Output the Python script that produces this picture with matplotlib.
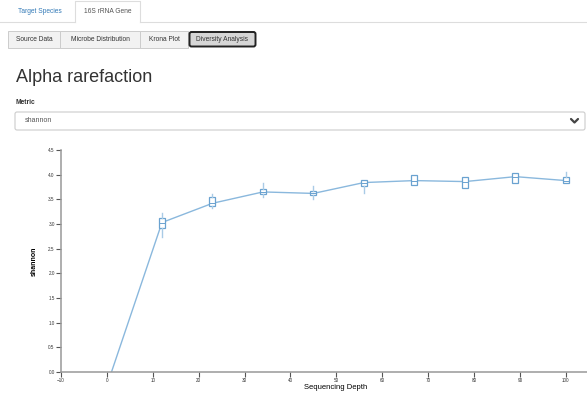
import matplotlib
matplotlib.use("Agg")
import matplotlib.pyplot as plt
from matplotlib.patches import FancyBboxPatch, Rectangle

plt.rcParams['font.family'] = ['Liberation Sans', 'DejaVu Sans']

# rarefaction data: sequencing depth vs shannon diversity
depths = [1, 12, 23, 34, 45, 56, 67, 78, 89, 100]
medians = [0.0, 3.03, 3.42, 3.65, 3.62, 3.84, 3.88, 3.86, 3.96, 3.88]
q1 = [0.0, 2.92, 3.37, 3.61, 3.59, 3.78, 3.79, 3.72, 3.84, 3.84]
q3 = [0.0, 3.12, 3.55, 3.71, 3.66, 3.89, 4.00, 3.96, 4.04, 3.95]
whis_lo = [0.0, 2.74, 3.33, 3.55, 3.51, 3.63, 3.79, 3.72, 3.84, 3.84]
whis_hi = [0.0, 3.22, 3.60, 3.83, 3.77, 3.89, 4.00, 3.96, 4.04, 4.05]

nav_tabs = ["Target Species", "16S rRNA Gene"]
sub_buttons = ["Source Data", "Microbe Distribution", "Krona Plot", "Diversity Analysis"]
x_ticks = list(range(-10, 101, 10))
y_ticks = [0.0, 0.5, 1.0, 1.5, 2.0, 2.5, 3.0, 3.5, 4.0, 4.5]

W, H = 587, 396
fig = plt.figure(figsize=(W / 100, H / 100), dpi=100)

# page layer in pixel coordinates (origin top-left)
ui = fig.add_axes([0, 0, 1, 1])
ui.set_xlim(0, W)
ui.set_ylim(H, 0)
ui.axis("off")

# tabs
ui.plot([0, 75], [22, 22], color="#dddddd", lw=0.8)
ui.plot([140, W], [22, 22], color="#dddddd", lw=0.8)
ui.plot([75, 75, 140, 140], [22, 1, 1, 22], color="#dddddd", lw=0.8)
ui.text(39.5, 11.5, nav_tabs[0], fontsize=4.8, color="#337ab7", ha="center", va="center")
ui.text(107.5, 11.5, nav_tabs[1], fontsize=4.8, color="#555555", ha="center", va="center")

# button group
edges = [8, 60, 140, 188, 257]
for i, name in enumerate(sub_buttons):
    x0, x1 = edges[i], edges[i + 1]
    active = i == len(sub_buttons) - 1
    if active:
        ui.add_patch(FancyBboxPatch((x0 + 1.5, 32), x1 - x0 - 3, 14.5,
                                    boxstyle="round,pad=0,rounding_size=2",
                                    fc="#d6d6d6", ec="#222222", lw=1.4))
    else:
        ui.add_patch(Rectangle((x0, 31), x1 - x0, 16.5, fc="#f2f2f2", ec="#cccccc", lw=0.7))
    ui.text((x0 + x1) / 2, 39.5, name, fontsize=4.8, color="#333333", ha="center", va="center")

ui.text(16, 78, "Alpha rarefaction", fontsize=13, color="#333333", va="center")
ui.text(16, 103, "Metric", fontsize=4.8, fontweight="bold", color="#333333", va="center")

# select box
ui.add_patch(FancyBboxPatch((15, 112), 570, 18, boxstyle="round,pad=0,rounding_size=2",
                            fc="white", ec="#cccccc", lw=0.8))
ui.text(25, 121, "shannon", fontsize=5, color="#555555", va="center")
ui.plot([571, 574.5, 578], [119, 122.5, 119], color="#444444", lw=1.6, solid_capstyle="round")

# rarefaction chart
left, right, top, bottom = 61, 587, 150, 372
ax = fig.add_axes([left / W, 1 - bottom / H, (right - left) / W, (bottom - top) / H])
ax.set_xlim(-10, 104.6)
ax.set_ylim(0, 4.5)

line_color = "#8ab8dd"
box_color = "#6aa2d0"
ax.plot(depths, medians, color=line_color, lw=1.0, zorder=2)

stats = []
for d, m, lo, hi, wl, wh in zip(depths, medians, q1, q3, whis_lo, whis_hi):
    if d == depths[0]:
        continue
    stats.append(dict(med=m, q1=lo, q3=hi, whislo=wl, whishi=wh, fliers=[]))
ax.bxp(stats, positions=depths[1:], widths=1.3, showcaps=False, patch_artist=True,
       boxprops=dict(facecolor="white", edgecolor=box_color, lw=0.9),
       medianprops=dict(color=box_color, lw=0.7),
       whiskerprops=dict(color="#a9cbe6", lw=1.0),
       manage_ticks=False, zorder=3)

for side in ["top", "right"]:
    ax.spines[side].set_visible(False)
for side in ["left", "bottom"]:
    ax.spines[side].set_color("#999999")
    ax.spines[side].set_linewidth(1.1)
ax.set_xticks(x_ticks)
ax.set_yticks(y_ticks)
ax.set_yticklabels([f"{v:.1f}" for v in y_ticks])
ax.tick_params(length=3.5, width=0.8, color="#555555", labelsize=3.3, labelcolor="#333333", pad=1.0)
ax.set_ylabel("shannon", fontsize=5, fontweight="bold")
ax.yaxis.set_label_coords(-0.044, 0.5)
ax.set_xlabel("Sequencing Depth", fontsize=5.5)
ax.xaxis.set_label_coords(0.523, -0.052)
ax.patch.set_alpha(0)

fig.savefig("out.png", dpi=100)
